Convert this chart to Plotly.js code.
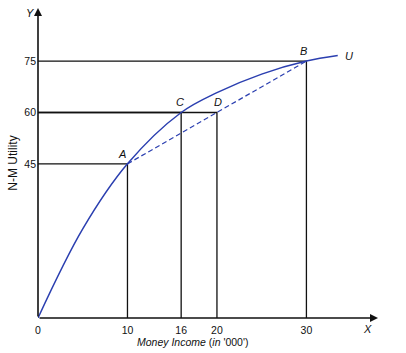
<!DOCTYPE html>
<html>
<head>
<meta charset="utf-8">
<script src="https://cdn.plot.ly/plotly-3.0.1.min.js"></script>
<style>html,body{margin:0;padding:0;background:#fff;}#chart{width:406px;height:353px;}</style>
</head>
<body>
<div id="chart"></div>
<script>
// Utility curve U
const curveX = [0, 5, 10, 16, 20, 25, 30, 33.5];
const curveY = [0, 26, 45, 60, 65.8, 71.2, 75, 76.6];
// Labelled points
const pointLabels = ['A', 'C', 'D', 'B'];
const pointX = [10, 16, 20, 30];
const pointY = [45, 60, 60, 75];
// Chord A-B (dashed)
const chordX = [10, 30];
const chordY = [45, 75];
// Ticks
const xTicks = [0, 10, 16, 20, 30];
const yTicks = [45, 60, 75];

const xMax = 38, yMax = 90.5;
const blue = '#2b3fb0';
const ff = 'Liberation Sans, Arial, sans-serif';
const traces = [];

// guide lines
pointX.forEach((x, i) => {
  const y = pointY[i];
  traces.push({x: [0, x, x], y: [y, y, 0], mode: 'lines', type: 'scatter',
    line: {color: '#111', width: 1.3}, hoverinfo: 'skip', showlegend: false});
});
traces.push({x: chordX, y: chordY, mode: 'lines', type: 'scatter',
  line: {color: blue, width: 1.2, dash: '5px,3px'}, showlegend: false});
traces.push({x: curveX, y: curveY, mode: 'lines', type: 'scatter',
  line: {color: blue, width: 1.5, shape: 'spline', smoothing: 1}, showlegend: false});

const labelFont = {family: ff, size: 11, color: '#111'};
const annotations = pointLabels.map((t, i) => ({
  x: pointX[i], y: pointY[i], xref: 'x', yref: 'y', text: '<i>' + t + '</i>',
  showarrow: false, font: labelFont,
  xanchor: t === 'A' || t === 'B' ? 'right' : 'center', yanchor: 'bottom',
  xshift: t === 'A' ? 1 : (t === 'B' ? 3 : (t === 'D' ? 1 : -1)), yshift: 2
}));
annotations.push({x: curveX[curveX.length - 1], y: curveY[curveY.length - 1], xref: 'x', yref: 'y',
  text: '<i>U</i>', showarrow: false, font: labelFont, xanchor: 'left', yanchor: 'middle', xshift: 5});
// axis arrows
annotations.push({x: xMax, y: 0, ax: 0, ay: 0, xref: 'x', yref: 'y', axref: 'x', ayref: 'y',
  showarrow: true, arrowhead: 2, arrowsize: 1, arrowwidth: 1.6, arrowcolor: '#111', text: ''});
annotations.push({x: 0, y: yMax, ax: 0, ay: 0, xref: 'x', yref: 'y', axref: 'x', ayref: 'y',
  showarrow: true, arrowhead: 2, arrowsize: 1, arrowwidth: 1.6, arrowcolor: '#111', text: ''});
annotations.push({x: 0, y: yMax, xref: 'x', yref: 'y', text: '<i>Y</i>', showarrow: false,
  font: labelFont, xanchor: 'right', yanchor: 'top', xshift: -2, yshift: 3});
annotations.push({x: xMax, y: 0, xref: 'x', yref: 'y', text: '<i>X</i>', showarrow: false,
  font: labelFont, xanchor: 'right', yanchor: 'top', xshift: -4, yshift: -3});
// x axis title
annotations.push({x: 0.455, y: 0, xref: 'paper', yref: 'paper', yanchor: 'top', yshift: -16,
  text: '<i>Money Income</i> (<i>in</i> \'000\')', showarrow: false,
  font: {family: ff, size: 10.5, color: '#111'}});

const layout = {
  width: 406, height: 353,
  margin: {l: 38, r: 28, t: 8, b: 35},
  paper_bgcolor: '#fff', plot_bgcolor: '#fff',
  showlegend: false,
  xaxis: {range: [0, xMax], tickvals: xTicks, ticktext: xTicks.map(String),
    showgrid: false, zeroline: false, showline: false, ticks: '', ticklabelstandoff: 4,
    tickfont: {family: ff, size: 10.5, color: '#111'}},
  yaxis: {range: [0, yMax], tickvals: yTicks, ticktext: yTicks.map(String),
    showgrid: false, zeroline: false, showline: false, ticks: '', ticklabelstandoff: 1,
    tickfont: {family: ff, size: 10.5, color: '#111'},
    title: {text: 'N-M Utility', standoff: 4,
      font: {family: ff, size: 12, color: '#111'}}},
  annotations: annotations
};
Plotly.newPlot('chart', traces, layout, {staticPlot: true, displayModeBar: false});
</script>
</body>
</html>
